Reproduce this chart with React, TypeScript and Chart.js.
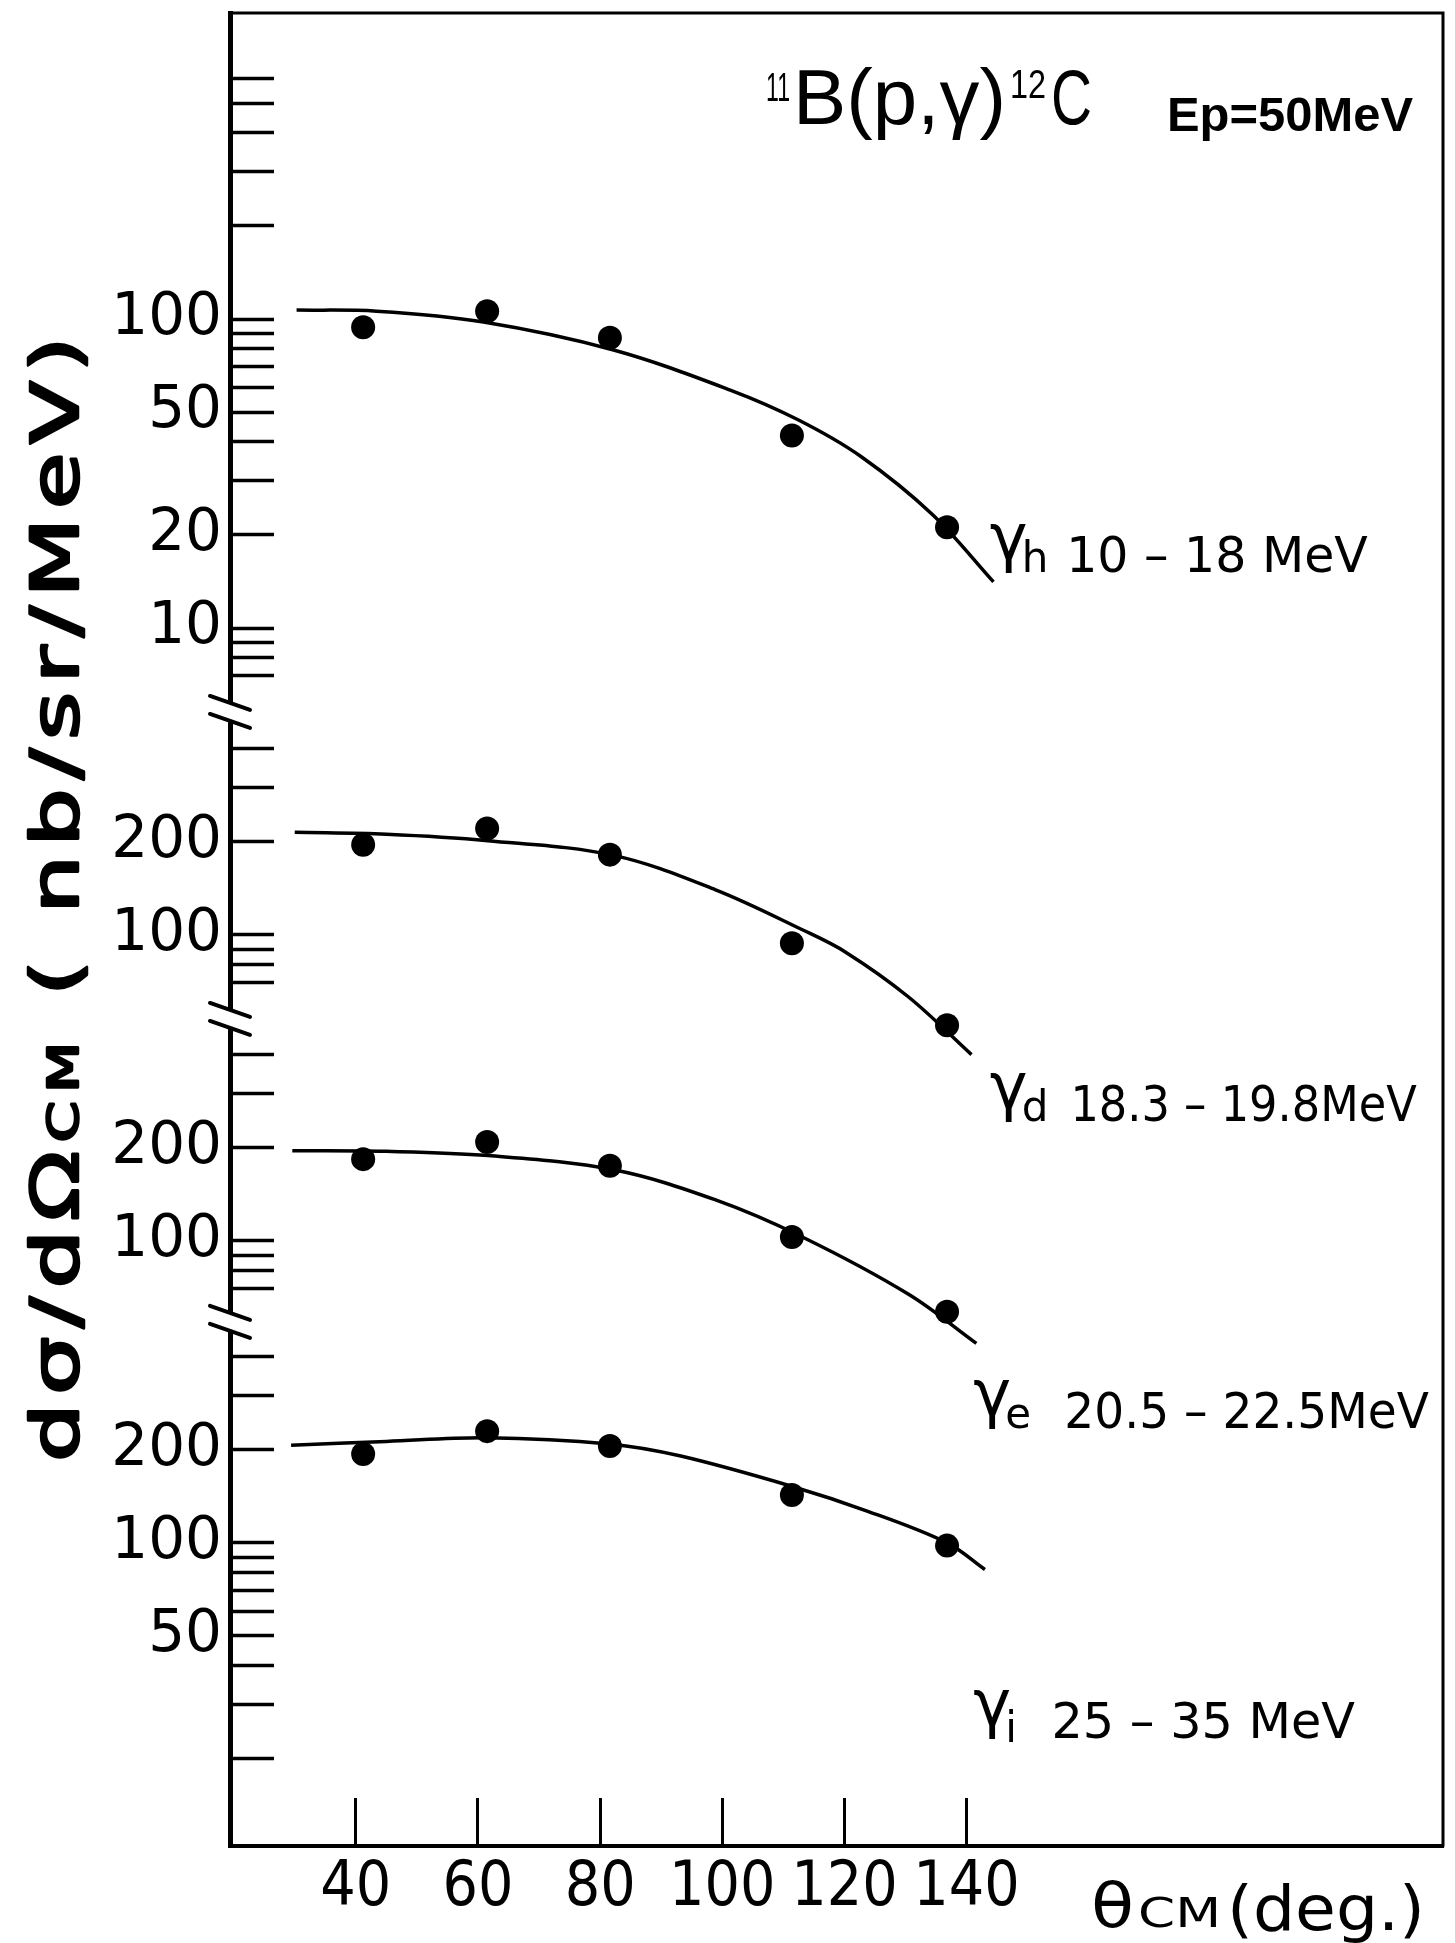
import React, { useEffect, useRef } from 'react';
import { Chart, registerables } from 'chart.js';

Chart.register(...registerables);

// ---------- data ----------
const measuredAngles = [41.2, 61.5, 81.6, 111.4, 136.8];
const gammaHValues = [94, 106, 87, 42, 21.2];
const gammaDValues = [196, 221, 182, 94, 51];
const gammaEValues = [184, 209, 175, 103, 59];
const gammaIValues = [194, 230, 206, 143, 98];

const fitHAngles = [30.3, 43.4, 60.9, 82.2, 101.3, 112.4, 122.7, 134.4, 144.4];
const fitHValues = [106.9, 106, 97.8, 79.4, 58.9, 47.2, 35.9, 23.3, 14.1];
const fitDAngles = [30.0, 45.0, 61.6, 82.2, 98.9, 113.1, 120.2, 130.5, 140.8];
const fitDValues = [215, 212, 202, 181, 140, 104, 88, 63, 41];
const fitEAngles = [29.6, 45.0, 61.6, 82.2, 98.8, 113.1, 130.5, 141.6];
const fitEValues = [196, 195, 189, 170, 136, 103, 67.2, 46.6];
const fitIAngles = [29.4, 45.0, 61.4, 81.5, 93.2, 111.6, 123.6, 136.8, 143.0];
const fitIValues = [207, 213, 219, 209, 191, 152, 127, 100, 82];

const xTickValues = [40, 60, 80, 100, 120, 140];
const xRange = [19.4, 218];

const panelHTicks = [7, 8, 9, 10, 20, 30, 40, 50, 60, 70, 80, 90, 100, 200, 300, 400, 500, 600];
const panelHLabels = [10, 20, 50, 100];
const panelHRange = [5.35, 978];
const panelDTicks = [70, 80, 90, 100, 200, 300, 400];
const panelDLabels = [100, 200];
const panelDRange = [53.5, 527];
const panelETicks = [70, 80, 90, 100, 200, 300, 400];
const panelELabels = [100, 200];
const panelERange = [54.7, 523];
const panelITicks = [20, 30, 40, 50, 60, 70, 80, 90, 100, 200, 300, 400];
const panelILabels = [50, 100, 200];
const panelIRange = [10.45, 519];

const SANS = '"DejaVu Sans", sans-serif';
const HELV = '"Liberation Sans", Arial, sans-serif';

function pickNarrow(): { family: string; size: number } {
  const c = document.createElement('canvas').getContext('2d')!;
  const cands: [string, number][] = [
    ['Liberation Sans Narrow', 80],
    ['Arial Narrow', 80],
    ['DejaVu Sans Condensed', 62],
  ];
  for (const [f, s] of cands) {
    c.font = '40px monospace';
    const w0 = c.measureText('100 deg MW').width;
    c.font = `40px "${f}", monospace`;
    const w1 = c.measureText('100 deg MW').width;
    if (Math.abs(w1 - w0) > 0.5) return { family: `"${f}"`, size: s };
  }
  return { family: '"Liberation Sans"', size: 66 };
}

function drawFit(ctx: CanvasRenderingContext2D, text: string, font: string, x0: number, x1: number, baseline: number) {
  ctx.save();
  ctx.font = font;
  ctx.textAlign = 'left';
  ctx.textBaseline = 'alphabetic';
  const w = ctx.measureText(text).width;
  const k = (x1 - x0) / w;
  ctx.translate(x0, baseline);
  ctx.scale(k, 1);
  ctx.fillText(text, 0, 0);
  ctx.restore();
}

const seriesLabels = [
  { axis: 'y1', sub: 'h', text: '10 – 18 MeV', gammaAt: 143.8, textFrom: 156.3, textTo: 205.7, level: 17.3 },
  { axis: 'y2', sub: 'd', text: '18.3 – 19.8MeV', gammaAt: 143.8, textFrom: 157.0, textTo: 213.7, level: 28.6 },
  { axis: 'y3', sub: 'e', text: '20.5 – 22.5MeV', gammaAt: 141.1, textFrom: 156.0, textTo: 215.7, level: 28.4 },
  { axis: 'y4', sub: 'i', text: '25 – 35 MeV', gammaAt: 141.1, textFrom: 153.9, textTo: 203.6, level: 26.7 },
];

function makeDecorPlugin(narrow: { family: string; size: number }) {
  return {
    id: 'decor',
    afterDraw(chart: any) {
      const { ctx, chartArea: ca, scales } = chart;
      ctx.save();
      ctx.fillStyle = '#000';
      ctx.strokeStyle = '#000';
      ctx.lineCap = 'round';

      // frame (top and right)
      ctx.lineWidth = 3;
      ctx.beginPath();
      ctx.moveTo(ca.left, ca.top);
      ctx.lineTo(ca.right, ca.top);
      ctx.lineTo(ca.right, ca.bottom);
      ctx.stroke();

      // axis breaks
      const axisX = scales.y1.right;
      for (const id of ['y1', 'y2', 'y3']) {
        const yb = scales[id].bottom;
        ctx.fillStyle = '#fff';
        ctx.fillRect(axisX - 6, yb - 8, 12, 16);
        ctx.fillStyle = '#000';
        ctx.lineWidth = 4;
        for (const off of [-9, 9]) {
          ctx.beginPath();
          ctx.moveTo(axisX - 20, yb + off - 7);
          ctx.lineTo(axisX + 20, yb + off + 7);
          ctx.stroke();
        }
      }

      // series labels
      const xs = scales.x;
      for (const lab of seriesLabels) {
        const cy = scales[lab.axis].getPixelForValue(lab.level);
        const base = cy + 18;
        const gx = xs.getPixelForValue(lab.gammaAt);
        ctx.font = `64px ${SANS}`;
        ctx.textAlign = 'left';
        ctx.textBaseline = 'alphabetic';
        ctx.fillText('γ', gx, base - 12);
        const gw = ctx.measureText('γ').width;
        ctx.font = `42px ${SANS}`;
        ctx.fillText(lab.sub, gx + gw - 6, base + (lab.sub === 'i' ? 4 : 0));
        drawFit(ctx, lab.text, `50px ${SANS}`, xs.getPixelForValue(lab.textFrom), xs.getPixelForValue(lab.textTo), base);
      }

      // title
      drawFit(ctx, '11', `40px ${HELV}`, 766, 790, 101);
      drawFit(ctx, 'B(p,γ)', `78px ${HELV}`, 793, 1006, 124);
      drawFit(ctx, '12', `40px ${HELV}`, 1010, 1046, 98);
      drawFit(ctx, 'C', `78px ${HELV}`, 1051, 1092, 124);
      drawFit(ctx, 'Ep=50MeV', `bold 48px ${HELV}`, 1167, 1413, 131);

      // x-axis name
      const nf = narrow.family;
      drawFit(ctx, 'θ', `${narrow.size}px ${nf}, sans-serif`, 1091, 1134, 1927);
      drawFit(ctx, 'CM', `${Math.round(narrow.size * 0.66)}px ${nf}, sans-serif`, 1138, 1221, 1927);
      drawFit(ctx, '(deg.)', `${narrow.size}px ${nf}, sans-serif`, 1227, 1425, 1930);

      // y-axis name (rotated)
      ctx.save();
      ctx.translate(78, 1462);
      ctx.rotate(-Math.PI / 2);
      (ctx as any).letterSpacing = '6px';
      const parts = [
        { t: 'dσ/dΩ', f: `66px ${SANS}` },
        { t: 'CM', f: `42px ${SANS}` },
        { t: ' ( nb/sr/MeV)', f: `66px ${SANS}` },
      ];
      let total = 0;
      const widths: number[] = [];
      for (const p of parts) {
        ctx.font = p.f;
        const w = ctx.measureText(p.t).width;
        widths.push(w);
        total += w;
      }
      const k = 1134 / total;
      ctx.scale(k, 1);
      let x = 0;
      ctx.textAlign = 'left';
      ctx.textBaseline = 'alphabetic';
      ctx.lineWidth = 2.5;
      ctx.lineJoin = 'round';
      parts.forEach((p, i) => {
        ctx.font = p.f;
        ctx.fillText(p.t, x, 0);
        ctx.strokeText(p.t, x, 0);
        x += widths[i];
      });
      ctx.restore();

      ctx.restore();
    },
  };
}

function logAxis(range: number[], ticks: number[], labels: number[], weight: number) {
  return {
    type: 'logarithmic',
    position: 'left',
    stack: 'left',
    stackWeight: Math.log10(range[1] / range[0]),
    weight,
    min: range[0],
    max: range[1],
    bounds: 'data',
    clip: false,
    border: { display: true, width: 5, color: '#000' },
    grid: {
      display: true,
      drawOnChartArea: false,
      drawTicks: true,
      tickLength: -44,
      tickWidth: 3.5,
      tickColor: '#000',
      color: '#000',
    },
    ticks: {
      autoSkip: false,
      padding: 52,
      color: '#000',
      maxRotation: 0,
      minRotation: 0,
      font: { family: '"DejaVu Sans"', size: 58 },
      callback: (v: any) => (labels.includes(Number(v)) ? String(v) : ''),
    },
    afterBuildTicks: (s: any) => {
      s.ticks = ticks.map((v) => ({ value: v }));
    },
    afterFit: (s: any) => {
      s.width = 230;
      s.paddingTop = 0;
      s.paddingBottom = 0;
    },
  };
}

function pts(xs: number[], ys: number[]) {
  return xs.map((x, i) => ({ x, y: ys[i] }));
}

export default function App() {
  const ref = useRef<HTMLCanvasElement | null>(null);

  useEffect(() => {
    if (!ref.current) return;
    const narrow = pickNarrow();
    const pointStyle = {
      showLine: false,
      pointRadius: 12,
      pointBackgroundColor: '#000',
      pointBorderWidth: 0,
      clip: false as any,
    };
    const lineStyle = {
      showLine: true,
      pointRadius: 0,
      borderColor: '#000',
      borderWidth: 3.5,
      tension: 0.35,
      clip: false as any,
    };
    const chart = new Chart(ref.current, {
      type: 'scatter',
      data: {
        datasets: [
          { label: 'γh fit', data: pts(fitHAngles, fitHValues), yAxisID: 'y1', ...lineStyle },
          { label: 'γd fit', data: pts(fitDAngles, fitDValues), yAxisID: 'y2', ...lineStyle },
          { label: 'γe fit', data: pts(fitEAngles, fitEValues), yAxisID: 'y3', ...lineStyle },
          { label: 'γi fit', data: pts(fitIAngles, fitIValues), yAxisID: 'y4', ...lineStyle },
          { label: 'γh', data: pts(measuredAngles, gammaHValues), yAxisID: 'y1', ...pointStyle },
          { label: 'γd', data: pts(measuredAngles, gammaDValues), yAxisID: 'y2', ...pointStyle },
          { label: 'γe', data: pts(measuredAngles, gammaEValues), yAxisID: 'y3', ...pointStyle },
          { label: 'γi', data: pts(measuredAngles, gammaIValues), yAxisID: 'y4', ...pointStyle },
        ] as any,
      },
      options: {
        responsive: false,
        animation: false,
        devicePixelRatio: 1,
        events: [],
        layout: { padding: { top: 13, right: 10, left: 0, bottom: 0 } },
        plugins: { legend: { display: false }, tooltip: { enabled: false }, title: { display: false } },
        scales: {
          x: {
            type: 'linear',
            position: 'bottom',
            min: xRange[0],
            max: xRange[1],
            bounds: 'data',
            border: { display: true, width: 4, color: '#000' },
            grid: { display: true, drawOnChartArea: false, drawTicks: true, tickLength: -48, tickWidth: 3, tickColor: '#000', color: '#000' },
            ticks: {
              autoSkip: false,
              padding: 54,
              color: '#000',
              maxRotation: 0,
              minRotation: 0,
              font: { family: narrow.family, size: narrow.size },
              callback: (v: any) => String(v),
            },
            afterBuildTicks: (s: any) => {
              s.ticks = xTickValues.map((v) => ({ value: v }));
            },
            afterFit: (s: any) => {
              s.height = 97;
              s.paddingLeft = 0;
              s.paddingRight = 0;
            },
          },
          y1: logAxis(panelHRange, panelHTicks, panelHLabels, 4),
          y2: logAxis(panelDRange, panelDTicks, panelDLabels, 3),
          y3: logAxis(panelERange, panelETicks, panelELabels, 2),
          y4: logAxis(panelIRange, panelITicks, panelILabels, 1),
        } as any,
      },
      plugins: [makeDecorPlugin(narrow)],
    });
    return () => chart.destroy();
  }, []);

  return (
    <div style={{ position: 'absolute', left: 0, top: 0, width: 1455, height: 1943, background: '#fff' }}>
      <canvas ref={ref} width={1455} height={1943} style={{ display: 'block', width: 1455, height: 1943 }} />
    </div>
  );
}
